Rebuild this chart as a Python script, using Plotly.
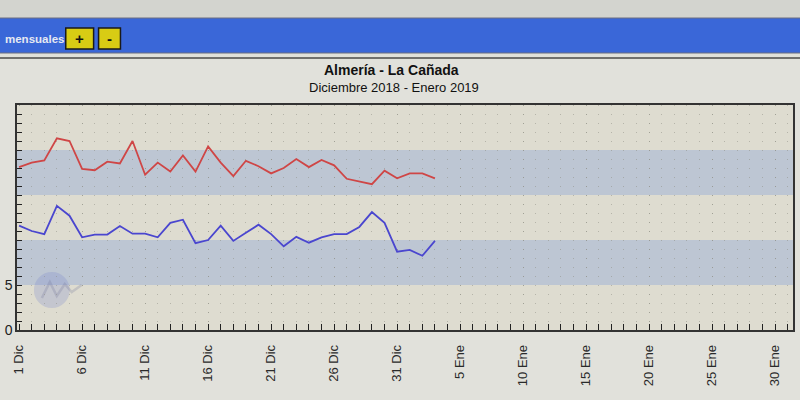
import plotly.graph_objects as go
import pandas as pd

# ---- data -------------------------------------------------------------
dates = pd.date_range("2018-12-01", "2019-01-03", freq="D")

t_max = [18.1, 18.6, 18.85, 21.3, 21.0, 17.9, 17.75, 18.7, 18.5, 21.0,
         17.25, 18.6, 17.6, 19.4, 17.6, 20.4, 18.6, 17.1, 18.8, 18.2,
         17.4, 18.0, 19.0, 18.1, 18.9, 18.3, 16.8, 16.5, 16.2, 17.7,
         16.85, 17.4, 17.4, 16.85]

t_min = [11.6, 11.0, 10.65, 13.8, 12.7, 10.3, 10.6, 10.6, 11.55, 10.7,
         10.7, 10.3, 11.9, 12.25, 9.65, 10.0, 11.6, 9.9, 10.8, 11.7,
         10.65, 9.3, 10.35, 9.7, 10.3, 10.65, 10.65, 11.45, 13.1, 11.9,
         8.7, 8.9, 8.25, 9.9]

tick_dates = ["2018-12-01", "2018-12-06", "2018-12-11", "2018-12-16",
              "2018-12-21", "2018-12-26", "2018-12-31", "2019-01-05",
              "2019-01-10", "2019-01-15", "2019-01-20", "2019-01-25",
              "2019-01-30"]
tick_labels = ["1 Dic", "6 Dic", "11 Dic", "16 Dic", "21 Dic", "26 Dic",
               "31 Dic", "5 Ene", "10 Ene", "15 Ene", "20 Ene", "25 Ene",
               "30 Ene"]

y_tickvals = list(range(0, 26))
y_ticktext = ["0", "", "", "", "", "5"] + [""] * 20

bands = [(5, 10), (15, 20)]

title = "Almería - La Cañada"
subtitle = "Diciembre 2018 - Enero 2019"
header_text = "mensuales"

# ---- layout helpers (pixel -> paper) ----------------------------------
L, R, T, B = 15, 5, 105, 70
W, H = 800, 400
PW, PH = W - L - R, H - T - B


def px(X):
    return (X - L) / PW


def py(Y):
    return (H - B - Y) / PH


fig = go.Figure()

fig.add_trace(go.Scatter(x=dates, y=t_max, mode="lines",
                         line=dict(color="#cf4646", width=1.8),
                         name="Máx", hoverinfo="x+y"))
fig.add_trace(go.Scatter(x=dates, y=t_min, mode="lines",
                         line=dict(color="#4a46cf", width=1.8),
                         name="Mín", hoverinfo="x+y"))

shapes = []
# shaded bands
for lo, hi in bands:
    shapes.append(dict(type="rect", xref="paper", yref="y", x0=0, x1=1,
                       y0=lo, y1=hi, fillcolor="#bdc6d3", line_width=0,
                       layer="between"))
# header strip and blue bar
shapes.append(dict(type="rect", xref="paper", yref="paper",
                   x0=px(-5), x1=px(805), y0=py(-5), y1=py(18),
                   fillcolor="#d3d4cf", line_width=0, layer="below"))
shapes.append(dict(type="rect", xref="paper", yref="paper",
                   x0=px(-5), x1=px(805), y0=py(53), y1=py(18),
                   fillcolor="#3a67d8", line=dict(color="#6a6f80", width=1),
                   layer="below"))
shapes.append(dict(type="line", xref="paper", yref="paper",
                   x0=px(-5), x1=px(805), y0=py(58), y1=py(58),
                   line=dict(color="#4a4a4a", width=1.5), layer="below"))
# buttons
for x0, x1 in [(64, 92), (97, 119)]:
    shapes.append(dict(type="rect", xref="paper", yref="paper",
                       x0=px(x0), x1=px(x1), y0=py(49), y1=py(28),
                       fillcolor="#d8cc14", line=dict(color="#1a1a1a", width=1.5),
                       layer="above"))
# faded logo
shapes.append(dict(type="circle", xref="paper", yref="paper",
                   x0=px(32), x1=px(68), y0=py(308), y1=py(272),
                   fillcolor="rgba(120,130,205,0.25)", line_width=0,
                   layer="between"))
shapes.append(dict(type="path", xref="paper", yref="paper",
                   path=f"M {px(40)},{py(298)} L {px(48)},{py(282)} L {px(55)},{py(296)} "
                        f"L {px(63)},{py(284)} L {px(70)},{py(292)} L {px(80)},{py(285)}",
                   line=dict(color="rgba(110,115,150,0.25)", width=2.5),
                   layer="between"))

annotations = [
    dict(text=f"<b>{header_text}</b>", xref="paper", yref="paper", x=px(1), y=py(39),
         xanchor="left", yanchor="middle", showarrow=False,
         font=dict(family="Liberation Sans, Arial", size=11.5, color="#e6e9f2")),
    dict(text="<b>+</b>", xref="paper", yref="paper", x=px(78), y=py(38.5),
         xanchor="center", yanchor="middle", showarrow=False,
         font=dict(family="Liberation Sans, Arial", size=15, color="#111")),
    dict(text="<b>-</b>", xref="paper", yref="paper", x=px(108), y=py(38.5),
         xanchor="center", yanchor="middle", showarrow=False,
         font=dict(family="Liberation Sans, Arial", size=15, color="#111")),
    dict(text=f"<b>{title}</b>", xref="paper", yref="paper", x=px(391), y=py(70),
         xanchor="center", yanchor="middle", showarrow=False,
         font=dict(family="Liberation Sans, Arial", size=14, color="#111")),
    dict(text=subtitle, xref="paper", yref="paper", x=px(394), y=py(88),
         xanchor="center", yanchor="middle", showarrow=False,
         font=dict(family="Liberation Sans, Arial", size=13, color="#111")),
]

grid_style = dict(gridcolor="rgba(140,140,130,0.5)", griddash="1px,8px",
                  gridwidth=1)

fig.update_layout(
    width=W, height=H,
    margin=dict(l=L, r=R, t=T, b=B),
    paper_bgcolor="#e1e1db",
    plot_bgcolor="#dedcd0",
    showlegend=False,
    shapes=shapes,
    annotations=annotations,
    font=dict(family="Liberation Sans, Arial", color="#222"),
    xaxis=dict(
        type="date",
        range=["2018-11-30 20:00", "2019-01-31 10:00"],
        tickmode="array", tickvals=tick_dates, ticktext=tick_labels,
        tickangle=-90, ticks="inside", ticklen=6, tickwidth=1.3,
        tickcolor="#222", tickfont=dict(size=13, color="#2a2a2a"),
        ticklabelstandoff=8,
        showline=True, linecolor="#333", linewidth=1.5, mirror=True,
        showgrid=True, **grid_style,
        minor=dict(dtick=86400000, tick0="2018-12-01", ticks="inside",
                   ticklen=6, tickwidth=1.3, tickcolor="#222",
                   showgrid=True, **grid_style),
        zeroline=False, fixedrange=True,
    ),
    yaxis=dict(
        range=[0, 25],
        tickmode="array", tickvals=y_tickvals, ticktext=y_ticktext,
        ticks="inside", ticklen=5, tickwidth=1.3, tickcolor="#222",
        tickfont=dict(size=14, color="#222"),
        showline=True, linecolor="#333", linewidth=1.5, mirror=True,
        showgrid=False, zeroline=False, fixedrange=True,
    ),
)

fig.write_html(
    "out.html",
    config={"displayModeBar": False},
    post_script="document.body.style.margin='0';document.body.style.overflow='hidden';",
)
